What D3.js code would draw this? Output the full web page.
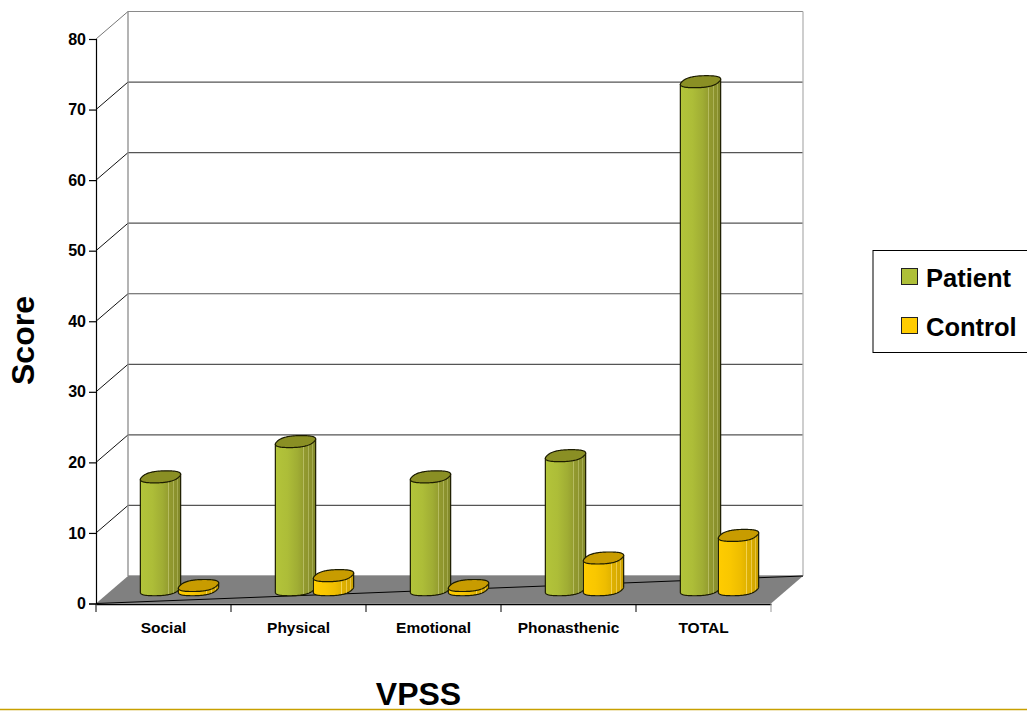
<!DOCTYPE html>
<html><head><meta charset="utf-8">
<script src="https://cdn.jsdelivr.net/npm/d3@7/dist/d3.min.js"></script>
<style>html,body{margin:0;padding:0;background:#fff;overflow:hidden}text{font-family:"Liberation Sans",Arial,sans-serif;font-weight:bold;fill:#000}</style>
</head><body><svg id="c" width="1027" height="711"></svg>
<script>
const categories = ["Social","Physical","Emotional","Phonasthenic","TOTAL"];
const seriesNames = ["Patient","Control"];
const patient = [16,21,16,19,72];
const control = [0.6,2,0.6,4.5,7.7];
const yTicks = [0,10,20,30,40,50,60,70,80];
const colors = {
  Patient:{swatch:"#AEBF38",cap:"#8A8F24",stops:[[0,"#b3c43a"],[.3,"#adbd38"],[.55,"#a0ad34"],[.68,"#969f30"],[.68,"#b6bc60"],[.705,"#b6bc60"],[.705,"#939a2f"],[.8,"#8f962e"],[.8,"#adb358"],[.825,"#adb358"],[.825,"#8c932d"],[.9,"#8a902c"],[.9,"#a5ab50"],[.925,"#a5ab50"],[.925,"#868c2b"],[1,"#7f8629"]]},
  Control:{swatch:"#FFCC00",cap:"#C89C00",stops:[[0,"#ffcc00"],[.3,"#f9c700"],[.55,"#eebd00"],[.68,"#e2b400"],[.68,"#f3d250"],[.705,"#f3d250"],[.705,"#dfb100"],[.8,"#dbae00"],[.8,"#edca48"],[.825,"#edca48"],[.825,"#d8ab00"],[.9,"#d4a800"],[.9,"#e6c242"],[.925,"#e6c242"],[.925,"#d0a500"],[1,"#c89f00"]]}
};

const svg = d3.select("#c");
const dx = 32, dy = -27.5;
const x = d3.scaleBand().domain(categories).range([96,771]);
const xInner = d3.scaleBand().domain(seriesNames).range([-38,38]);
const y = d3.scaleLinear().domain([0,80]).range([603.5,39]);

const defs = svg.append("defs");
seriesNames.forEach(s=>{
  const g = defs.append("linearGradient").attr("id","grad"+s);
  colors[s].stops.forEach(([o,c])=>g.append("stop").attr("offset",o).attr("stop-color",c));
});

// walls grid
const backY = v => y(v)+dy;
svg.append("g").selectAll("line").data(yTicks).join("line")
  .attr("x1",96+dx).attr("x2",771+dx).attr("y1",backY).attr("y2",backY)
  .attr("stroke",d=>d===80?"#8a8a8a":"#555").attr("stroke-width",1.2);
svg.append("g").selectAll("line").data(yTicks.filter(d=>d>0)).join("line")
  .attr("x1",96).attr("x2",96+dx).attr("y1",d=>y(d)).attr("y2",backY)
  .attr("stroke",d=>d===80?"#777":"#111").attr("stroke-width",1);
svg.append("line").attr("x1",96+dx).attr("x2",96+dx).attr("y1",backY(80)).attr("y2",backY(0)).attr("stroke","#8c8c8c").attr("stroke-width",1.3);
svg.append("line").attr("x1",771+dx).attr("x2",771+dx).attr("y1",backY(80)).attr("y2",backY(0)).attr("stroke","#b4b4b4").attr("stroke-width",1.3);

// floor
svg.append("polygon").attr("fill","#808080")
  .attr("points",[[96,y(0)],[96+dx,backY(0)],[771+dx,backY(0)],[771,y(0)]].join(" "));
svg.append("line").attr("x1",96).attr("y1",y(0)).attr("x2",771+dx).attr("y2",backY(0)).attr("stroke","#000").attr("stroke-width",1);

// axes
const fontFam = '"Liberation Sans",Arial,sans-serif';
const yAxis = d3.axisLeft(y).tickValues(yTicks).tickSize(7).tickPadding(3).tickFormat(d3.format("d"));
const gy = svg.append("g").attr("transform","translate(96,0)").call(yAxis);
gy.selectAll("path").attr("stroke","#000").attr("stroke-width",1.2);
gy.selectAll("line").attr("stroke","#000").attr("stroke-width",1.2);
gy.selectAll("text").style("font-size","16px").style("font-family",fontFam).style("font-weight","bold");

const xAxis = d3.axisBottom(x).tickSize(0).tickPadding(14);
const gx = svg.append("g").attr("transform","translate(0,604)").call(xAxis);
gx.select("path").attr("stroke","#000").attr("stroke-width",1.6);
gx.selectAll("text").style("font-size","15.5px").style("font-family",fontFam).style("font-weight","bold").attr("dy","0.95em");
const edges = categories.map(c=>x(c)).concat([x.range()[1]]);
gx.selectAll("line.edge").data(edges).join("line").attr("class","edge")
  .attr("x1",d=>d).attr("x2",d=>d).attr("y1",0).attr("y2",8)
  .attr("stroke",(d,i)=>i===edges.length-1?"#999":"#000").attr("stroke-width",1);

// cylinders: rounded caps with an oblique tilt
const rx = 18.5, sk = 6, ry = 6, pw = 0.8;
const sp = a => Math.sign(a)*Math.pow(Math.abs(a),pw);
const N = 120;
const unit = d3.range(N).map(i=>{
  const t=i/N*2*Math.PI, u=sp(Math.cos(t)), v=sp(Math.sin(t));
  return [rx*u+sk*v, -ry*v];
});
const iR = d3.greatestIndex(unit,p=>p[0]), iL = d3.leastIndex(unit,p=>p[0]);
const front = [];
for(let i=iL;;i=(i+1)%N){ front.push(unit[i]); if(i===iR) break; }
const line = d3.line();
function drawBar(g,name,cat,val){
  const cx = x(cat)+x.bandwidth()/2+dx/2+xInner(name)+xInner.bandwidth()/2;
  const base = y(0)+dy/2, top = y(val)+dy/2;
  const body = [[cx+unit[iL][0],top+unit[iL][1]]].concat(front.map(p=>[cx+p[0],base+p[1]]),[[cx+unit[iR][0],top+unit[iR][1]]]);
  g.append("path").attr("d",line(body)+"Z").attr("fill","url(#grad"+name+")").attr("stroke","#1c1c00").attr("stroke-width",1.2).attr("stroke-linejoin","round");
  g.append("path").attr("d",line(unit.map(p=>[cx+p[0],top+p[1]]))+"Z").attr("fill",colors[name].cap).attr("stroke","#1c1c00").attr("stroke-width",1.2);
}
const barsG = svg.append("g");
categories.forEach((c,i)=>{
  drawBar(barsG,"Patient",c,patient[i]);
  drawBar(barsG,"Control",c,control[i]);
});

// titles
svg.append("text").attr("x",418.5).attr("y",705).attr("text-anchor","middle").style("font-size","32px").text("VPSS");
svg.append("text").attr("transform","translate(34,340.5) rotate(-90)").attr("text-anchor","middle").style("font-size","32px").text("Score");

// legend
const lg = svg.append("g");
lg.append("rect").attr("x",873).attr("y",250.5).attr("width",160).attr("height",102).attr("fill","#fff").attr("stroke","#000").attr("stroke-width",1);
const ly = d3.scalePoint().domain(seriesNames).range([277,326]);
seriesNames.forEach(s=>{
  lg.append("rect").attr("x",901.5).attr("y",ly(s)-8.5).attr("width",16).attr("height",16).attr("fill",colors[s].swatch).attr("stroke","#222").attr("stroke-width",1);
  lg.append("text").attr("x",926).attr("y",ly(s)+10).style("font-size","25.5px").text(s);
});

// bottom rule
svg.append("line").attr("x1",0).attr("x2",1027).attr("y1",709.5).attr("y2",709.5).attr("stroke","#c8a000").attr("stroke-width",1.5);
</script></body></html>
